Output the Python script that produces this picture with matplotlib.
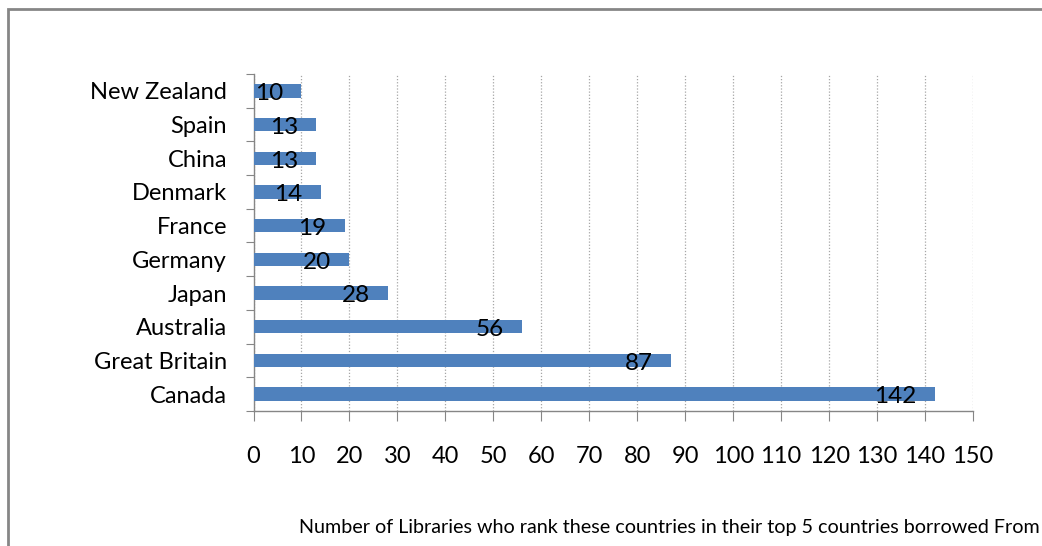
import matplotlib
matplotlib.use('Agg')
import matplotlib.pyplot as plt
from matplotlib.patches import Rectangle
import numpy as np

countries = ['Canada', 'Great Britain', 'Australia', 'Japan', 'Germany',
             'France', 'Denmark', 'China', 'Spain', 'New Zealand']
libraries = [142, 87, 56, 28, 20, 19, 14, 13, 13, 10]
x_ticks = list(range(0, 151, 10))
caption = 'Number of Libraries who rank these countries in their top 5 countries borrowed From'

plt.rcParams['font.family'] = ['Lato', 'DejaVu Sans']

W, H = 1042, 546
fig = plt.figure(figsize=(W / 100, H / 100), dpi=100)

# chart area frame
fig.patches.append(Rectangle((8 / W, -0.1), 1.2, 1 - 8.5 / H + 0.1,
                             transform=fig.transFigure, fill=False,
                             edgecolor='#868686', linewidth=2))

ax = fig.add_axes([253.5 / W, 1 - 411 / H, (973 - 253.5) / W, (411 - 74) / H])

y = np.arange(len(countries))
bars = ax.barh(y, libraries, height=0.4, color='#4F81BD', zorder=3)

ax.set_xlim(0, 150)
ax.set_ylim(-0.5, len(countries) - 0.5)

# value labels, just inside the end of each bar
for rect, v in zip(bars, libraries):
    ax.annotate(str(v), (v, rect.get_y() + rect.get_height() / 2),
                xytext=(-13, -2), textcoords='offset points',
                ha='right', va='center', fontsize=17.5, color='black', zorder=4)

ax.set_xticks(x_ticks)
ax.set_xticklabels([str(t) for t in x_ticks], fontsize=17)
ax.xaxis.grid(True, linestyle=(0, (1, 1.5)), color='#a6a6a6', linewidth=0.9, zorder=0)

# category ticks sit between the bars, names at the centres
ax.set_yticks(np.arange(-0.5, len(countries), 1.0))
ax.set_yticklabels([])
ax.set_yticks(y, minor=True)
ax.set_yticklabels(countries, minor=True, fontsize=17)
ax.tick_params(axis='y', which='major', length=6, color='#868686', direction='out')
ax.tick_params(axis='y', which='minor', length=0, pad=19)
ax.tick_params(axis='x', length=7, color='#868686', direction='out', pad=18)

for side in ('top', 'right'):
    ax.spines[side].set_visible(False)
for side in ('left', 'bottom'):
    ax.spines[side].set_color('#868686')
    ax.spines[side].set_linewidth(1.0)

fig.text(1040 / W, 1 - 528 / H, caption, ha='right', va='center', fontsize=14.2)

fig.savefig('out.png', dpi=100)
